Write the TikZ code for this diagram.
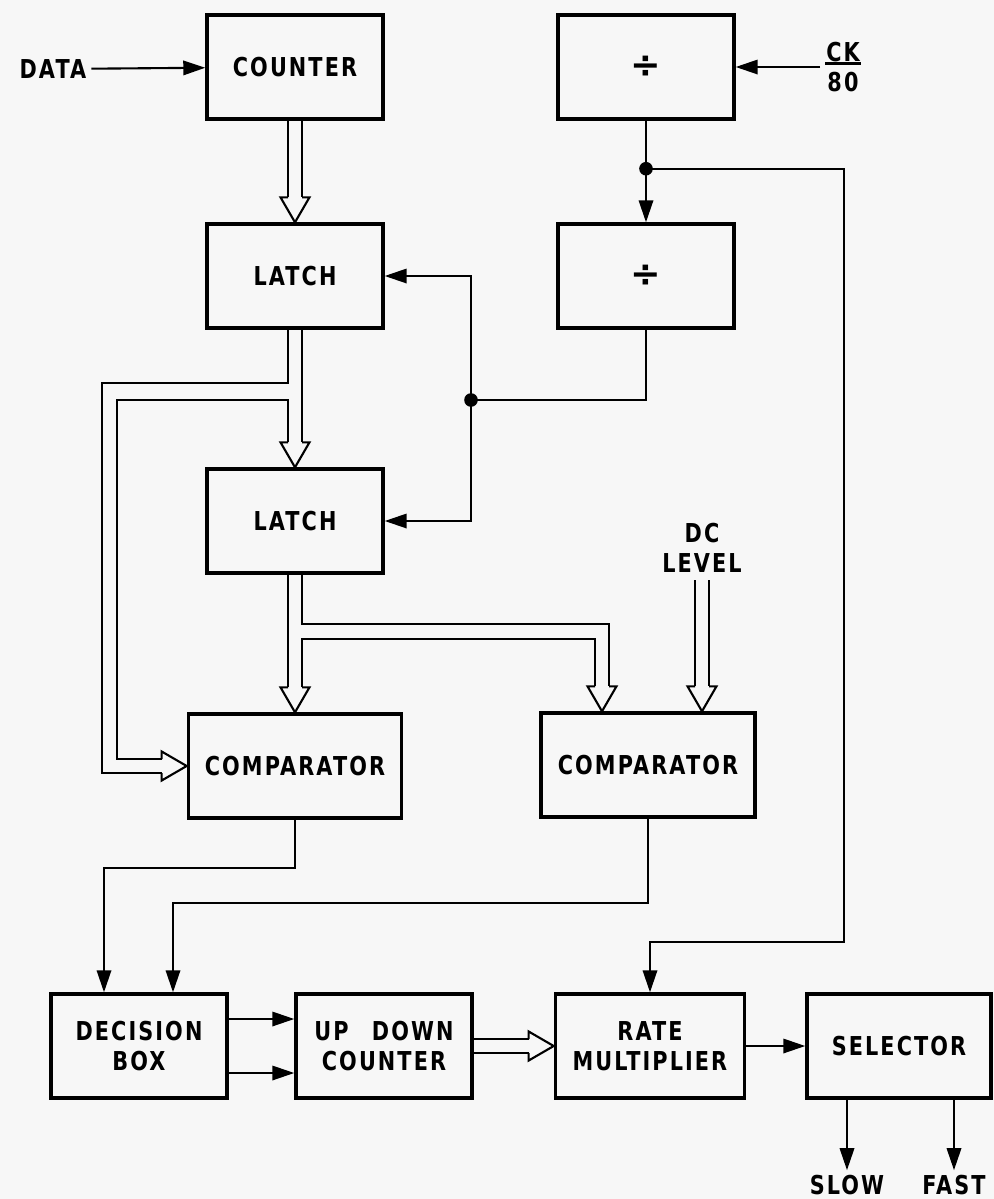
\documentclass[tikz,border=0pt]{standalone}
\usepackage{fontspec}
\setmainfont{DejaVu Sans}[FakeStretch=0.8, LetterSpace=8]
\newfontfamily\symfont{DejaVu Sans}
\usepackage{tikz}
\usetikzlibrary{calc,arrows.meta}

\newcommand{\boxfont}{\fontsize{18.5}{21}\selectfont\bfseries}
\newcommand{\divsign}{{\symfont\fontsize{26}{30}\selectfont ÷}}
\newcommand{\headdown}[1]{\draw[bus] ($(#1)+(-7,-25)$) -- ++(-7.5,0) -- (#1) -- ++(14.5,-25) -- ++(-7.5,0);}
\newcommand{\headright}[1]{\draw[bus] ($(#1)+(-25,-7)$) -- ++(0,-7.5) -- (#1) -- ++(-25,14.5) -- ++(0,-7.5);}

\tikzset{
  blk/.style={draw, line width=2.4pt, minimum width=4.4cm, minimum height=2.6cm, align=center, font=\boxfont},
  lbl/.style={font=\boxfont, align=center},
  sig/.style={line width=1.5pt, -{Triangle[length=5.5mm,width=3.6mm]}},
  wire/.style={line width=1.5pt},
  bus/.style={line width=1.5pt, line join=miter},
  jdot/.style={circle, fill, inner sep=0pt, minimum size=3.4mm}
}

\begin{document}
\begin{tikzpicture}[x=0.025cm, y=-0.025cm]
      \path[use as bounding box, fill=black!3] (0,0) rectangle (994,1199);

      \node[lbl] (data) at (53,69) {DATA};
      \node[blk] (counter) at (295,67) {COUNTER};
      \node[blk] (divA) at (646,67) {\divsign};
      \node[lbl] (ck) at (843,67) {CK\\[-19pt]\rule{0.9cm}{1.8pt}\\[-2pt]80};
      \node[blk] (latchA) at (295,276) {LATCH};
      \node[blk] (divB) at (646,276) {\divsign};
      \node[blk] (latchB) at (295,521) {LATCH};
      \node[lbl] (dc) at (702,548) {DC\\LEVEL};
      \node[blk, minimum width=5.33cm] (compA) at (295,766) {COMPARATOR};
      \node[blk, minimum width=5.35cm] (compB) at (648,765) {COMPARATOR};
      \node[blk] (decide) at (139,1046) {DECISION\\BOX};
      \node[blk] (updown) at (384,1046) {UP\hspace{0.35cm} DOWN\\COUNTER};
      \node[blk, minimum width=4.73cm] (ratemul) at (650,1046) {RATE\\MULTIPLIER};
      \node[blk, minimum width=4.6cm] (select) at (899,1046) {SELECTOR};
      \node[lbl] (slow) at (847,1185) {SLOW};
      \node[lbl] (fast) at (954,1185) {FAST};

      \coordinate (tapA) at ($(divA.south)+(0,48)$);
      \coordinate (tapB) at (471,400);
      \coordinate (turnR) at (844,942);
      \coordinate (busOut) at (102,383);
      \coordinate (busIn) at (117,400);
      \coordinate (inB) at ($(compB.north)+(-46,0)$);
      \coordinate (inC) at (dc.south |- compB.north);
      \coordinate (inD1) at ($(decide.north)+(-35,0)$);
      \coordinate (inD2) at ($(decide.north)+(34,0)$);

      \draw[sig] (data) -- (counter);
      \draw[sig] (ck) -- (divA);
      \draw[sig] (divA) -- (divB);
      \draw[sig] (tapA) -| (turnR) -| (ratemul.north);
      \draw[wire] (divB) |- (tapB);
      \draw[sig] (tapB) |- (latchA);
      \draw[sig] (tapB) |- (latchB);
      \node[jdot] (dotA) at (tapA) {};
      \node[jdot] (dotB) at (tapB) {};

      \draw[bus] ($(counter.south)+(-7,0)$) -- ($(latchA.north)+(-7,-25)$);
      \draw[bus] ($(counter.south)+(7,0)$) -- ($(latchA.north)+(7,-25)$);
      \headdown{latchA.north}

      \draw[bus] ($(latchA.south)+(7,0)$) -- ($(latchB.north)+(7,-25)$);
      \draw[bus] ($(latchA.south)+(-7,0)$) |- (busOut) |- ($(compA.west)+(-25,7)$);
      \draw[bus] ($(compA.west)+(-25,-7)$) -| (busIn) -| ($(latchB.north)+(-7,-25)$);
      \headdown{latchB.north}
      \headright{compA.west}

      \draw[bus] ($(latchB.south)+(-7,0)$) -- ($(compA.north)+(-7,-25)$);
      \draw[bus] ($(latchB.south)+(7,0)$) |- ($(inB)+(7,-87)$) -- ($(inB)+(7,-25)$);
      \draw[bus] ($(compA.north)+(7,-25)$) |- ($(inB)+(-7,-72)$) -- ($(inB)+(-7,-25)$);
      \headdown{compA.north}
      \headdown{inB}

      \draw[bus] ($(dc.south)+(-7,3)$) -- ($(inC)+(-7,-25)$);
      \draw[bus] ($(dc.south)+(7,3)$) -- ($(inC)+(7,-25)$);
      \headdown{inC}

      \draw[sig] (compA) |- ($(inD1)+(0,-124)$) -- (inD1);
      \draw[sig] (compB) |- ($(inD2)+(0,-89)$) -- (inD2);

      \draw[sig] ($(decide.east)+(0,-27)$) -- ($(updown.west)+(0,-27)$);
      \draw[sig] ($(decide.east)+(0,27)$) -- ($(updown.west)+(0,27)$);
      \draw[bus] ($(updown.east)+(0,-7)$) -- ($(ratemul.west)+(-25,-7)$);
      \draw[bus] ($(updown.east)+(0,7)$) -- ($(ratemul.west)+(-25,7)$);
      \headright{ratemul.west}
      \draw[sig] (ratemul) -- (select);
      \draw[sig] (select.south -| slow) -- (slow);
      \draw[sig] (select.south -| fast) -- (fast);
    \end{tikzpicture}
\end{document}
